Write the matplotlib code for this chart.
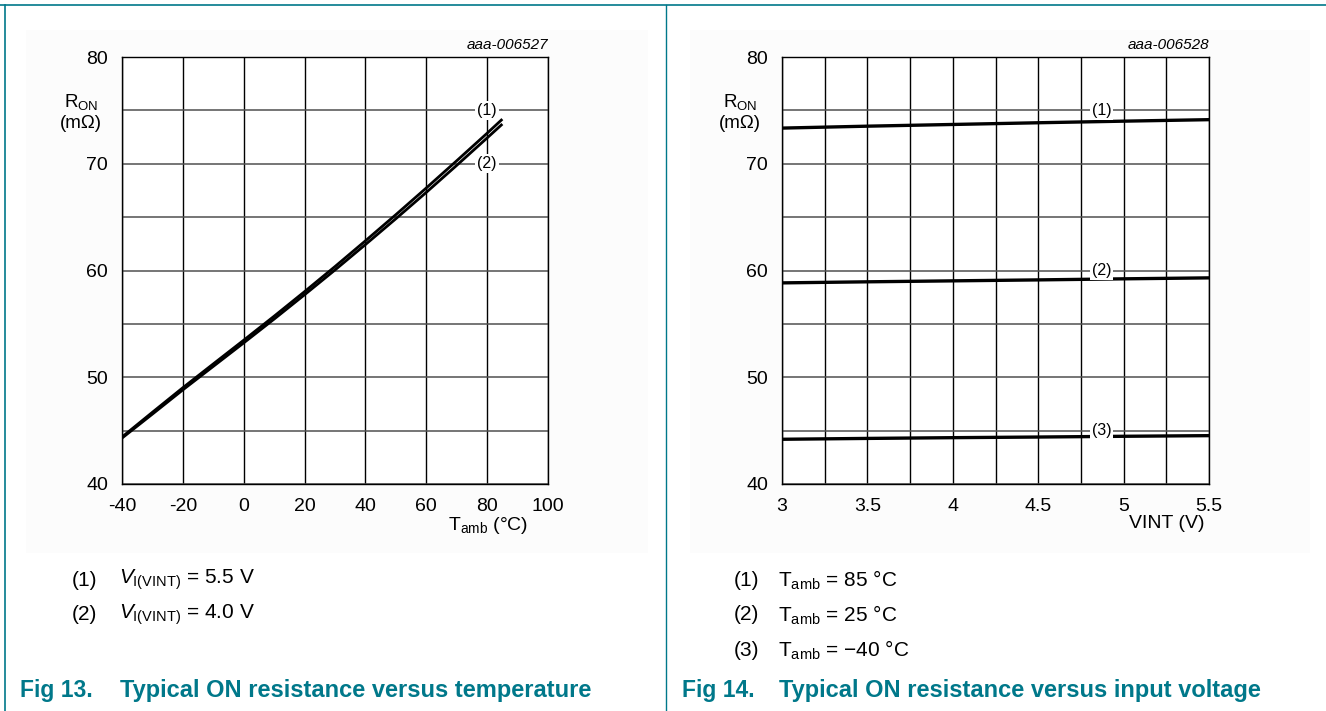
import numpy as np
import matplotlib
matplotlib.use('Agg')
import matplotlib.pyplot as plt
from matplotlib.patches import Rectangle

plt.rcParams['font.family'] = ['Liberation Sans', 'DejaVu Sans']
plt.rcParams['mathtext.fontset'] = 'custom'
plt.rcParams['mathtext.rm'] = 'Liberation Sans'
plt.rcParams['mathtext.it'] = 'Liberation Sans:italic'

# Fig 13: R_ON vs temperature
temp = [-40, -30, -20, -10, 0, 10, 20, 30, 40, 50, 60, 70, 80, 85]
ron_55v = [44.40, 46.72, 49.02, 51.25, 53.47, 55.72, 58.02, 60.37, 62.78,
           65.23, 67.73, 70.28, 72.86, 74.18]
ron_40v = [44.30, 46.55, 48.82, 51.02, 53.22, 55.45, 57.73, 60.05, 62.43,
           64.85, 67.32, 69.85, 72.42, 73.72]

# Fig 14: R_ON vs input voltage
vint = [3.0, 3.5, 4.0, 4.5, 5.0, 5.5]
ron_85c = [73.34, 73.52, 73.68, 73.84, 73.99, 74.13]
ron_25c = [58.84, 58.94, 59.03, 59.12, 59.22, 59.31]
ron_m40c = [44.19, 44.27, 44.34, 44.40, 44.47, 44.53]

W, H = 1326, 711
TEAL = '#00788a'
fig = plt.figure(figsize=(W / 100, H / 100), dpi=100)


def fx(x):
    return x / W


def fy(y):
    return 1 - y / H


def px_axes(x0, y0, x1, y1):
    return fig.add_axes([fx(x0), fy(y1), fx(x1 - x0), (y1 - y0) / H])


# frame lines
fig.add_artist(plt.Line2D([0, 1], [fy(5), fy(5)], color=TEAL, lw=1.2))
fig.add_artist(plt.Line2D([fx(5), fx(5)], [0, fy(5)], color=TEAL, lw=1.2))
fig.add_artist(plt.Line2D([fx(666), fx(666)], [0, fy(5)], color=TEAL, lw=1.0))
fig.add_artist(Rectangle((fx(26), fy(553)), fx(622), (553 - 30) / H,
                         facecolor='#fcfcfc', edgecolor='none', zorder=-5))
fig.add_artist(Rectangle((fx(690), fy(553)), fx(620), (553 - 30) / H,
                         facecolor='#fcfcfc', edgecolor='none', zorder=-5))


def style_axes(ax, xlim, xticks, xminor):
    ax.set_xlim(*xlim)
    ax.set_ylim(40, 80)
    ax.set_xticks(xticks)
    ax.set_xticks(xminor, minor=True)
    ax.set_yticks([40, 50, 60, 70, 80])
    ax.set_yticks([45, 55, 65, 75], minor=True)
    ax.tick_params(which='both', length=0, labelsize=14, colors='black')
    ax.tick_params(axis='x', pad=10)
    ax.tick_params(axis='y', pad=10)
    ax.grid(True, which='both', axis='x', color='black', lw=1.0)
    ax.grid(True, which='both', axis='y', color='#505050', lw=1.1)
    ax.set_axisbelow(True)
    for s in ax.spines.values():
        s.set_color('black')
        s.set_linewidth(1.0)
    ax.set_facecolor('white')


def tag(ax, x, y, s):
    ax.text(x, y, s, fontsize=11.5, ha='center', va='center', zorder=5,
            bbox=dict(facecolor='white', edgecolor='none', pad=1.5))


# left chart
ax1 = px_axes(122, 57, 548, 484)
style_axes(ax1, (-40, 100), [-40, -20, 0, 20, 40, 60, 80, 100],
           [-40, -20, 0, 20, 40, 60, 80, 100])
ax1.set_xticklabels(['-40', '-20', '0', '20', '40', '60', '80', '100'])
ax1.plot(temp, ron_55v, color='black', lw=2.0, solid_capstyle='butt', zorder=3)
ax1.plot(temp, ron_40v, color='black', lw=2.0, solid_capstyle='butt', zorder=3)
tag(ax1, 80, 75, '(1)')
tag(ax1, 80, 70, '(2)')

# right chart
ax2 = px_axes(782, 57, 1209, 484)
style_axes(ax2, (3, 5.5), [3, 3.5, 4, 4.5, 5, 5.5],
           list(np.arange(3, 5.51, 0.25)))
ax2.set_xticklabels(['3', '3.5', '4', '4.5', '5', '5.5'])
for vals in (ron_85c, ron_25c, ron_m40c):
    ax2.plot(vint, vals, color='black', lw=2.4, zorder=3)
tag(ax2, 4.87, 75, '(1)')
tag(ax2, 4.87, 60, '(2)')
tag(ax2, 4.87, 45, '(3)')

# axis labels and codes
for x0, code in ((548, 'aaa-006527'), (1209, 'aaa-006528')):
    fig.text(fx(x0), fy(45), code, fontsize=11, style='italic',
             ha='right', va='center')
for xc in (81, 740):
    fig.text(fx(xc), fy(102), r'R$_{\mathrm{ON}}$', fontsize=13.5,
             ha='center', va='center')
    fig.text(fx(xc), fy(124), '(mΩ)', fontsize=13.5, ha='center', va='center')
fig.text(fx(488), fy(526), r'T$_{\mathrm{amb}}$ (°C)', fontsize=14,
         ha='center', va='center')
fig.text(fx(1167), fy(524), 'VINT (V)', fontsize=14, ha='center', va='center')

# notes
left_notes = [r'$V_{\mathrm{I(VINT)}}$ = 5.5 V', r'$V_{\mathrm{I(VINT)}}$ = 4.0 V']
right_notes = [r'T$_{\mathrm{amb}}$ = 85 °C', r'T$_{\mathrm{amb}}$ = 25 °C',
               r'T$_{\mathrm{amb}}$ = −40 °C']
for i, s in enumerate(left_notes):
    y = 580 + 35 * i
    fig.text(fx(72), fy(y), '(%d)' % (i + 1), fontsize=15, va='center')
    fig.text(fx(119), fy(y), s, fontsize=15, va='center')
for i, s in enumerate(right_notes):
    y = 580 + 35 * i
    fig.text(fx(734), fy(y), '(%d)' % (i + 1), fontsize=15, va='center')
    fig.text(fx(778), fy(y), s, fontsize=15, va='center')

# captions
for x0, x1, num, title in ((20, 120, 'Fig 13.', 'Typical ON resistance versus temperature'),
                           (682, 779, 'Fig 14.', 'Typical ON resistance versus input voltage')):
    fig.text(fx(x0), fy(690), num, fontsize=16.5, fontweight='bold',
             color=TEAL, va='center')
    fig.text(fx(x1), fy(690), title, fontsize=17, fontweight='bold',
             color=TEAL, va='center')

fig.savefig('out.png', dpi=100)
